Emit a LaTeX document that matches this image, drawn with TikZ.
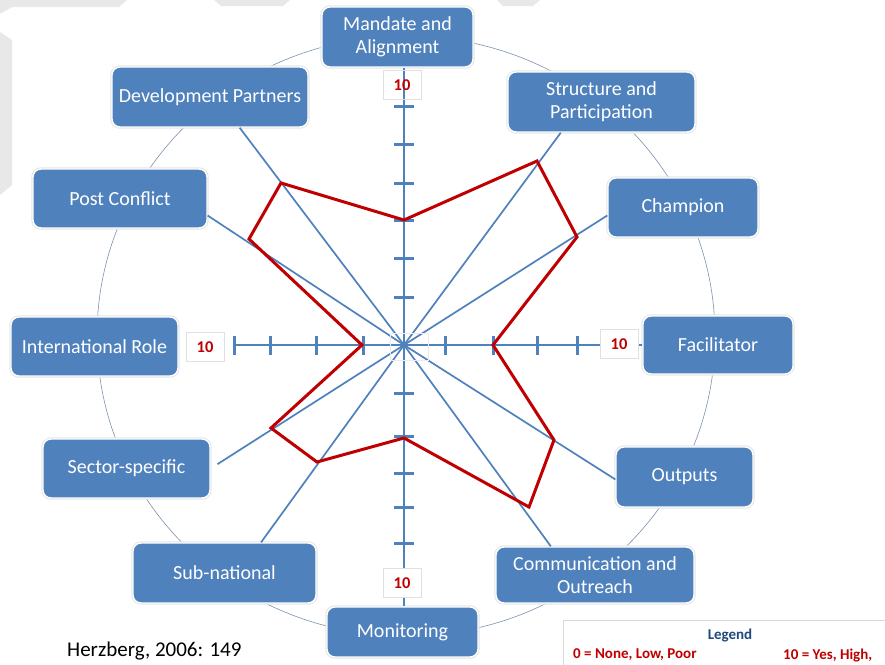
\documentclass[tikz,border=0pt]{standalone}
\usepackage{fontspec}
\setmainfont{Carlito}
\usetikzlibrary{calc}
\definecolor{boxblue}{RGB}{79,129,189}
\definecolor{spokeblue}{RGB}{79,129,189}
\definecolor{datared}{RGB}{192,0,0}
\definecolor{legendblue}{RGB}{31,73,125}
\definecolor{ringgray}{RGB}{125,145,175}
\begin{document}
\begin{tikzpicture}[x=1pt,y=-1pt,
  box/.style={rounded corners=8pt, fill=boxblue, draw=white, line width=1.4pt,
    preaction={draw=black!10, line width=3.4pt},
    text=white, font=\fontsize{20}{23}\selectfont, align=center, inner sep=0pt},
  spoke/.style={draw=spokeblue, line width=1.7pt},
  axisline/.style={draw=spokeblue, line width=2pt},
  tickmark/.style={draw=spokeblue, line width=3pt},
  ring/.style={draw=ringgray, line width=0.6pt},
  scorebox/.style={draw=black!12, line width=0.6pt, fill=white, text=datared,
    font=\bfseries\fontsize{16.5}{18}\selectfont, minimum width=38pt,
    minimum height=29pt, inner sep=0pt},
  profile/.style={draw=datared, line width=3pt, line join=miter},
  legendtext/.style={font=\bfseries\fontsize{15}{17}\selectfont, inner sep=0pt},
]
% page frame
\clip (0,0) rectangle (885,664);
\fill[white] (0,0) rectangle (885,664);

% faint background bands
\fill[black!9] (0,0) -- (127,0) -- (119,7) -- (12,7) -- (0,14) -- cycle;
\fill[black!9] (0,32) -- (12,40) -- (12,185) -- (0,195) -- cycle;
\fill[black!9] (214,0) -- (290,0) -- (283,6) -- (221,6) -- cycle;
\fill[black!9] (497,0) -- (540,0) -- (533,6) -- (503,6) -- cycle;

% centre of the chart
\coordinate (c) at (404,345);

% ring linking the categories
\draw[ring] (406,336) ellipse [x radius=309, y radius=300];

% category boxes
\node[box, minimum width=151pt, minimum height=60pt] (mandate) at (397.5,37) {Mandate and\\Alignment};
\node[box, minimum width=196pt, minimum height=60pt] (devp) at (210,97) {Development Partners};
\node[box, minimum width=187pt, minimum height=60pt] (struct) at (601.5,102) {Structure and\\Participation};
\node[box, minimum width=174pt, minimum height=59pt] (post) at (120,198.5) {Post Conflict};
\node[box, minimum width=150pt, minimum height=59pt] (champ) at (683,207.5) {Champion};
\node[box, minimum width=167pt, minimum height=59pt] (intl) at (94.5,346.5) {International Role};
\node[box, minimum width=150pt, minimum height=58pt] (facil) at (718,345) {Facilitator};
\node[box, minimum width=167pt, minimum height=59pt] (sector) at (126.5,468.5) {Sector-specific};
\node[box, minimum width=137pt, minimum height=60pt] (outputs) at (684.5,477) {Outputs};
\node[box, minimum width=183pt, minimum height=60pt] (sub) at (224.5,573) {Sub-national};
\node[box, minimum width=198pt, minimum height=56pt] (comm) at (595,575) {Communication and\\Outreach};
\node[box, minimum width=151pt, minimum height=50pt] (monitor) at (402.5,632) {Monitoring};

% spokes
\draw[spoke] (c) -- (devp.-46);
\draw[spoke] (c) -- (struct.-143);
\draw[spoke] (c) -- (post.-11);
\draw[spoke] (c) -- (champ.186);
\draw[spoke] (c) -- (outputs.182);
\draw[spoke] (c) -- (comm.147);
\draw[spoke] (c) -- (sub.40);
\draw[spoke, shorten >=8pt] (c) -- (sector.east);

% main axes
\draw[axisline] (c |- mandate.south) -- (c |- monitor.north);
\draw[axisline] (facil.west |- c) -- ($(c)+(-171,0)$);

% tick marks
\foreach \d in {48,87,125,162,201,239}
  \draw[tickmark] ($(c)+(-10,-\d)$) -- ($(c)+(10,-\d)$);
\foreach \d in {48,91,128,162,198}
  \draw[tickmark] ($(c)+(-10,\d)$) -- ($(c)+(10,\d)$);
\foreach \d in {41,88,134,170}
  \draw[tickmark] ($(c)+(-\d,-9.5)$) -- ($(c)+(-\d,9.5)$);
\foreach \d in {41,89,133,173}
  \draw[tickmark] ($(c)+(\d,-9.5)$) -- ($(c)+(\d,9.5)$);

% score profile
\draw[profile] (404,220) -- (537,161) -- (577,237) -- (493,345) -- (554,440)
  -- (529,507) -- (404,438) -- (317,462) -- (271,428) -- (362,345)
  -- (249,239) -- (281,183) -- cycle;

% scale end labels
\node[scorebox, fill=none] (tten) at (402,85) {10};
\node[scorebox] (bten) at (402,583) {10};
\node[scorebox] (lten) at (205,347) {10};
\node[scorebox] (rten) at (619,344) {10};

% origin marker
\node[draw=black!8, line width=0.5pt, minimum width=38pt, minimum height=27pt, inner sep=0pt] (zero) at (409,346.5) {};
\fill[spokeblue] (c) circle (3.5pt);

% source
\node[anchor=west, inner sep=0pt, font=\fontsize{21}{24}\selectfont] (src) at (67,651) {Herzberg, 2006: 149};

% legend
\node[draw=black!15, line width=0.6pt, fill=white, minimum width=340pt, minimum height=60pt, anchor=north west] (legend) at (563,620) {};
\node[legendtext, text=legendblue] (legtitle) at (730,635) {Legend};
\node[legendtext, text=datared, anchor=west] (leglow) at (573,655) {0 = None, Low, Poor};
\node[legendtext, text=datared, anchor=west] (leghigh) at (783,655) {10 = Yes, High,};
\end{tikzpicture}
\end{document}
